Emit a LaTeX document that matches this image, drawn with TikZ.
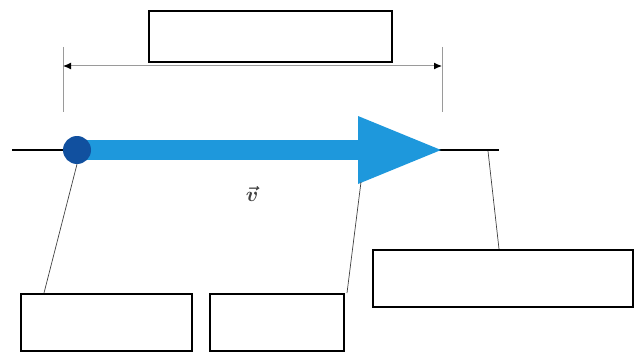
\documentclass[tikz,border=0pt]{standalone}
\usetikzlibrary{arrows.meta}
\definecolor{shaftblue}{HTML}{1E98DC}
\definecolor{dotblue}{HTML}{11509F}
\definecolor{dimgray}{HTML}{9A9A9A}
\tikzset{
  emptybox/.style={draw=black, line width=2.2pt, fill=white, inner sep=0pt, anchor=north west},
  leader/.style={draw=black!75, line width=0.7pt},
  extline/.style={draw=dimgray, line width=1pt},
  dimline/.style={draw=dimgray, line width=1pt, {Latex[length=8pt,width=7pt,black]}-{Latex[length=8pt,width=7pt,black]}},
}
\begin{document}
\begin{tikzpicture}[x=1pt,y=-1pt]
\useasboundingbox (0,0) rectangle (635,353);
% boxes
\node[emptybox, minimum width=243pt, minimum height=51pt] (top) at (148,10) {};
\node[emptybox, minimum width=171pt, minimum height=57pt] (b1) at (20,293) {};
\node[emptybox, minimum width=134pt, minimum height=57pt] (b2) at (209,293) {};
\node[emptybox, minimum width=260pt, minimum height=57pt] (b3) at (372,249) {};
% dimension
\coordinate (e1t) at (63,47); \coordinate (e1b) at (63,112);
\coordinate (e2t) at (442,47); \coordinate (e2b) at (442,112);
\draw[extline] (e1t) -- (e1b);
\draw[extline] (e2t) -- (e2b);
\coordinate (d1) at (63,66); \coordinate (d2) at (442,66);
\draw[dimline] (d1) -- (d2);
% base line
\coordinate (lineL) at (12,150); \coordinate (lineR) at (499,150);
\draw[black, line width=2pt] (lineL) -- (lineR);
% vector arrow
\coordinate (sh1) at (77,150); \coordinate (sh2) at (360,150);
\draw[shaftblue, line width=20pt] (sh1) -- (sh2);
\coordinate (htop) at (358,116); \coordinate (hbot) at (358,184); \coordinate (tip) at (441,150);
\fill[shaftblue] (htop) -- (tip) -- (hbot) -- cycle;
\node[circle, fill=dotblue, minimum size=28pt, inner sep=0pt] (dot) at (77,150) {};
\node[font=\huge\boldmath, text=black!75, inner sep=0pt] (v) at (252,194) {$\vec{v}$};
% leaders
\coordinate (hb) at (361,182);
\coordinate (lr) at (488,151);
\draw[leader] (dot.south) -- (b1.north west -| 44,0);
\draw[leader] (hb) -- (b2.north east -| 347,0);
\draw[leader] (lr) -- (b3.north -| 499,0);
\end{tikzpicture}
\end{document}
